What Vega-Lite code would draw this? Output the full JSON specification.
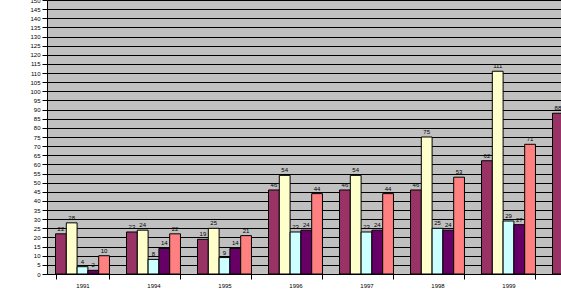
{
  "$schema": "https://vega.github.io/schema/vega-lite/v6.json",
  "autosize": {"type": "none"},
  "padding": {"left": 47, "top": 0, "right": 0, "bottom": 33},
  "width": 568,
  "height": 274,
  "background": "white",
  "view": {"fill": "#C0C0C0", "stroke": null},
  "config": {"font": "Liberation Sans"},
  "data": {
    "values": [
      {"year": "1991", "s": "A", "v": 22}, {"year": "1991", "s": "B", "v": 28}, {"year": "1991", "s": "C", "v": 4}, {"year": "1991", "s": "D", "v": 2}, {"year": "1991", "s": "E", "v": 10},
      {"year": "1994", "s": "A", "v": 23}, {"year": "1994", "s": "B", "v": 24}, {"year": "1994", "s": "C", "v": 8}, {"year": "1994", "s": "D", "v": 14}, {"year": "1994", "s": "E", "v": 22},
      {"year": "1995", "s": "A", "v": 19}, {"year": "1995", "s": "B", "v": 25}, {"year": "1995", "s": "C", "v": 9}, {"year": "1995", "s": "D", "v": 14}, {"year": "1995", "s": "E", "v": 21},
      {"year": "1996", "s": "A", "v": 46}, {"year": "1996", "s": "B", "v": 54}, {"year": "1996", "s": "C", "v": 23}, {"year": "1996", "s": "D", "v": 24}, {"year": "1996", "s": "E", "v": 44},
      {"year": "1997", "s": "A", "v": 46}, {"year": "1997", "s": "B", "v": 54}, {"year": "1997", "s": "C", "v": 23}, {"year": "1997", "s": "D", "v": 24}, {"year": "1997", "s": "E", "v": 44},
      {"year": "1998", "s": "A", "v": 46}, {"year": "1998", "s": "B", "v": 75}, {"year": "1998", "s": "C", "v": 25}, {"year": "1998", "s": "D", "v": 24}, {"year": "1998", "s": "E", "v": 53},
      {"year": "1999", "s": "A", "v": 62}, {"year": "1999", "s": "B", "v": 111}, {"year": "1999", "s": "C", "v": 29}, {"year": "1999", "s": "D", "v": 27}, {"year": "1999", "s": "E", "v": 71},
      {"year": "2000", "s": "A", "v": 88}
    ]
  },
  "encoding": {
    "x": {
      "field": "year", "type": "nominal", "sort": null, "title": null,
      "scale": {"paddingInner": 0.24, "paddingOuter": 0.12},
      "axis": {"labelAngle": 0, "tickBand": "extent", "tickSize": 5, "tickColor": "black", "domainColor": "black", "labelFontSize": 6, "labelColor": "black", "labelPadding": 3, "grid": false}
    },
    "xOffset": {"field": "s", "type": "nominal", "sort": null, "scale": {"paddingInner": 0, "paddingOuter": 0}},
    "y": {
      "field": "v", "type": "quantitative", "title": null,
      "scale": {"domain": [0, 150], "nice": false},
      "axis": {
        "values": [0,5,10,15,20,25,30,35,40,45,50,55,60,65,70,75,80,85,90,95,100,105,110,115,120,125,130,135,140,145,150],
        "grid": true, "gridColor": "black", "gridOpacity": 1, "gridWidth": 1,
        "domainColor": "black", "tickColor": "black", "tickSize": 5,
        "labelFontSize": 6, "labelColor": "black", "labelPadding": 2
      }
    }
  },
  "layer": [
    {
      "mark": {"type": "bar", "stroke": "black", "strokeWidth": 1},
      "encoding": {
        "color": {
          "field": "s", "type": "nominal", "legend": null,
          "scale": {"domain": ["A", "B", "C", "D", "E"], "range": ["#993366", "#FFFFCC", "#CCFFFF", "#660066", "#FF8080"]}
        }
      }
    },
    {
      "mark": {"type": "text", "baseline": "bottom", "dy": -2, "fontSize": 6, "color": "black"},
      "encoding": {"text": {"field": "v", "type": "quantitative"}}
    }
  ]
}
